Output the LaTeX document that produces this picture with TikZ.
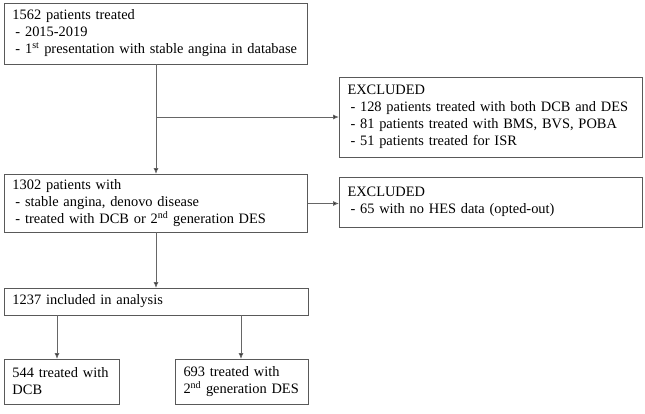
\documentclass[tikz,border=0pt]{standalone}
\usepackage{fontspec}
\setmainfont{Liberation Serif}
\usetikzlibrary{arrows.meta}
\begin{document}
\begin{tikzpicture}[x=1pt,y=-1pt,
  box/.style={draw=black!65, line width=1pt, rectangle, anchor=north west, inner xsep=8pt, inner ysep=0pt, align=left, font=\fontsize{14.4}{17}\selectfont, text height=9pt},
  conn/.style={draw=black!60, line width=0.9pt},
  arr/.style={conn, -{Latex[length=6pt,width=5pt,fill=black!85]}}]
\useasboundingbox (0,0) rectangle (645,413);
\def\ind{\hspace{3pt}}
\node[box, minimum width=303pt, minimum height=61pt, text width=287pt] (b1) at (4,3)
  {1562 patients treated\\\ind- 2015-2019\\\ind- 1\textsuperscript{st} presentation with stable angina in database};
\node[box, minimum width=303pt, minimum height=80pt, text width=287pt] (e1) at (339,77)
  {EXCLUDED\\\ind- 128 patients treated with both DCB and DES\\\ind- 81 patients treated with BMS, BVS, POBA\\\ind- 51 patients treated for ISR};
\node[box, minimum width=303pt, minimum height=58pt, text width=287pt] (b2) at (4,174)
  {1302 patients with\\\ind- stable angina, denovo disease\\\ind- treated with DCB or 2\textsuperscript{nd} generation DES};
\node[box, minimum width=303pt, minimum height=50pt, text width=287pt] (e2) at (339,177)
  {EXCLUDED\\\ind- 65 with no HES data (opted-out)};
\node[box, minimum width=304pt, minimum height=27pt, text width=288pt] (b3) at (4,288)
  {1237 included in analysis};
\node[box, minimum width=115pt, minimum height=45pt, text width=99pt] (b4) at (4,359)
  {544 treated with\\DCB};
\node[box, minimum width=133pt, minimum height=45pt, text width=117pt] (b5) at (175,359)
  {693 treated with\\2\textsuperscript{nd} generation DES};
\coordinate (t1) at (156,64);
\coordinate (br) at (156,117);
\coordinate (t2) at (156,232);
\coordinate (s4) at (57,315);
\coordinate (s5) at (241,315);
\draw[arr] (t1) -- (t1 |- b2.north);
\draw[arr] (br) -- (br -| e1.west);
\draw[arr] (b2.east) -- (e2.west |- b2.east);
\draw[arr] (t2) -- (t2 |- b3.north);
\draw[arr] (s4) -- (s4 |- b4.north);
\draw[arr] (s5) -- (s5 |- b5.north);
\end{tikzpicture}
\end{document}
